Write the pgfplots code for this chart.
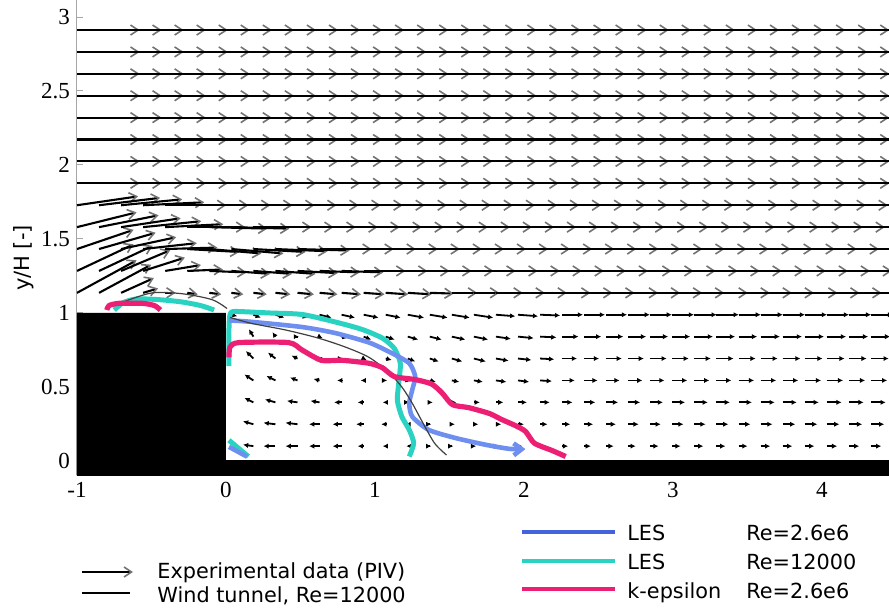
\documentclass[border=0pt]{standalone}
\usepackage{fontspec}
\setmainfont{DejaVu Sans}
\newfontfamily\tickfont{Liberation Serif}
\usepackage{pgfplots}
\usepackage{pgfplotstable}
\pgfplotsset{compat=1.18}
\usetikzlibrary{arrows.meta}

\definecolor{lesblue}{HTML}{6E8EF0}
\definecolor{lesbluekey}{HTML}{4562DD}
\definecolor{lescyan}{HTML}{2AD3C1}
\definecolor{kepsmag}{HTML}{EC1F74}

% PIV vectors of the lower rows: x y u v (in units of H)
\pgfplotstableread[row sep=\\]{
x y u v\\
0.184 0.100 -0.07 0.01\\ 0.332 0.100 -0.08 0\\ 0.480 0.100 -0.08 0\\ 0.628 0.100 -0.07 0\\
0.776 0.100 -0.06 0\\ 0.924 0.100 -0.04 0\\ 1.072 0.100 -0.02 0\\ 1.220 0.100 -0.01 0\\
1.368 0.100 0.01 0\\ 1.516 0.100 0.01 0\\ 1.664 0.100 0.015 0\\ 1.812 0.100 0.02 0\\
1.960 0.100 0.03 0\\ 2.108 0.100 0.035 0\\ 2.256 0.100 0.04 0\\ 2.404 0.100 0.045 0\\
2.552 0.100 0.05 0\\ 2.700 0.100 0.05 0\\ 2.848 0.100 0.055 0\\ 2.996 0.100 0.055 0\\
3.144 0.100 0.06 0\\ 3.292 0.100 0.06 0\\ 3.440 0.100 0.06 0\\ 3.588 0.100 0.065 0\\
3.736 0.100 0.065 0\\ 3.884 0.100 0.065 0\\ 4.032 0.100 0.07 0\\ 4.180 0.100 0.07 0\\
4.328 0.100 0.07 0\\
0.184 0.248 -0.07 0.02\\ 0.332 0.248 -0.08 0.01\\ 0.480 0.248 -0.08 0.01\\ 0.628 0.248 -0.07 0\\
0.776 0.248 -0.06 0\\ 0.924 0.248 -0.05 0\\ 1.072 0.248 -0.03 0\\ 1.220 0.248 -0.015 0\\
1.368 0.248 0.01 0\\ 1.516 0.248 0.02 0\\ 1.664 0.248 0.03 0\\ 1.812 0.248 0.035 0\\
1.960 0.248 0.04 0\\ 2.108 0.248 0.05 0\\ 2.256 0.248 0.055 0\\ 2.404 0.248 0.06 0\\
2.552 0.248 0.065 0\\ 2.700 0.248 0.07 0\\ 2.848 0.248 0.07 0\\ 2.996 0.248 0.075 0\\
3.144 0.248 0.075 0\\ 3.292 0.248 0.08 0\\ 3.440 0.248 0.08 0\\ 3.588 0.248 0.08 0\\
3.736 0.248 0.085 0\\ 3.884 0.248 0.085 0\\ 4.032 0.248 0.085 0\\ 4.180 0.248 0.09 0\\
4.328 0.248 0.09 0\\
0.184 0.396 -0.06 0.03\\ 0.332 0.396 -0.07 0.02\\ 0.480 0.396 -0.07 0.01\\ 0.628 0.396 -0.06 0.01\\
0.776 0.396 -0.05 0\\ 0.924 0.396 -0.04 0\\ 1.072 0.396 -0.02 0\\ 1.220 0.396 0.01 0\\
1.368 0.396 0.02 0\\ 1.516 0.396 0.03 0\\ 1.664 0.396 0.04 0\\ 1.812 0.396 0.05 0\\
1.960 0.396 0.06 0\\ 2.108 0.396 0.065 0\\ 2.256 0.396 0.07 0\\ 2.404 0.396 0.075 0\\
2.552 0.396 0.08 0\\ 2.700 0.396 0.08 0\\ 2.848 0.396 0.085 0\\ 2.996 0.396 0.085 0\\
3.144 0.396 0.09 0\\ 3.292 0.396 0.09 0\\ 3.440 0.396 0.09 0\\ 3.588 0.396 0.095 0\\
3.736 0.396 0.095 0\\ 3.884 0.396 0.095 0\\ 4.032 0.396 0.10 0\\ 4.180 0.396 0.10 0\\
4.328 0.396 0.10 0\\
0.184 0.544 -0.06 0.04\\ 0.332 0.544 -0.06 0.03\\ 0.480 0.544 -0.05 0.02\\ 0.628 0.544 -0.04 0.01\\
0.776 0.544 -0.03 0\\ 0.924 0.544 -0.02 0\\ 1.072 0.544 0.01 0\\ 1.220 0.544 0.02 -0.005\\
1.368 0.544 0.04 -0.01\\ 1.516 0.544 0.05 -0.01\\ 1.664 0.544 0.06 -0.01\\ 1.812 0.544 0.07 -0.01\\
1.960 0.544 0.075 -0.01\\ 2.108 0.544 0.08 -0.005\\ 2.256 0.544 0.085 0\\ 2.404 0.544 0.09 0\\
2.552 0.544 0.09 0\\ 2.700 0.544 0.095 0\\ 2.848 0.544 0.095 0\\ 2.996 0.544 0.10 0\\
3.144 0.544 0.10 0\\ 3.292 0.544 0.10 0\\ 3.440 0.544 0.105 0\\ 3.588 0.544 0.105 0\\
3.736 0.544 0.105 0\\ 3.884 0.544 0.11 0\\ 4.032 0.544 0.11 0\\ 4.180 0.544 0.11 0\\
4.328 0.544 0.11 0\\
0.184 0.692 -0.05 0.05\\ 0.332 0.692 -0.05 0.04\\ 0.480 0.692 -0.04 0.02\\ 0.628 0.692 -0.02 0.01\\
0.776 0.692 0.01 0\\ 0.924 0.692 0.02 -0.01\\ 1.072 0.692 0.04 -0.01\\ 1.220 0.692 0.05 -0.02\\
1.368 0.692 0.06 -0.02\\ 1.516 0.692 0.07 -0.02\\ 1.664 0.692 0.08 -0.02\\ 1.812 0.692 0.085 -0.015\\
1.960 0.692 0.09 -0.01\\ 2.108 0.692 0.095 -0.005\\ 2.256 0.692 0.10 0\\ 2.404 0.692 0.10 0\\
2.552 0.692 0.105 0\\ 2.700 0.692 0.105 0\\ 2.848 0.692 0.11 0\\ 2.996 0.692 0.11 0\\
3.144 0.692 0.11 0\\ 3.292 0.692 0.115 0\\ 3.440 0.692 0.115 0\\ 3.588 0.692 0.115 0\\
3.736 0.692 0.12 0\\ 3.884 0.692 0.12 0\\ 4.032 0.692 0.12 0\\ 4.180 0.692 0.12 0\\
4.328 0.692 0.12 0\\
0.184 0.840 -0.03 0.05\\ 0.332 0.840 -0.02 0.03\\ 0.480 0.840 0.01 0\\ 0.628 0.840 0.02 -0.01\\
0.776 0.840 0.04 -0.01\\ 0.924 0.840 0.05 -0.02\\ 1.072 0.840 0.06 -0.02\\ 1.220 0.840 0.07 -0.02\\
1.368 0.840 0.08 -0.02\\ 1.516 0.840 0.09 -0.02\\ 1.664 0.840 0.095 -0.02\\ 1.812 0.840 0.10 -0.015\\
1.960 0.840 0.105 -0.01\\ 2.108 0.840 0.11 -0.005\\ 2.256 0.840 0.11 0\\ 2.404 0.840 0.115 0\\
2.552 0.840 0.115 0\\ 2.700 0.840 0.12 0\\ 2.848 0.840 0.12 0\\ 2.996 0.840 0.12 0\\
3.144 0.840 0.125 0\\ 3.292 0.840 0.125 0\\ 3.440 0.840 0.125 0\\ 3.588 0.840 0.13 0\\
3.736 0.840 0.13 0\\ 3.884 0.840 0.13 0\\ 4.032 0.840 0.13 0\\ 4.180 0.840 0.13 0\\
4.328 0.840 0.13 0\\
0.036 0.988 0.04 -0.01\\ 0.184 0.988 0.05 -0.02\\ 0.332 0.988 0.06 -0.02\\ 0.480 0.988 0.07 -0.02\\
0.628 0.988 0.08 -0.02\\ 0.776 0.988 0.09 -0.02\\ 0.924 0.988 0.10 -0.02\\ 1.072 0.988 0.10 -0.02\\
1.220 0.988 0.11 -0.02\\ 1.368 0.988 0.12 -0.02\\ 1.516 0.988 0.12 -0.02\\ 1.664 0.988 0.13 -0.02\\
1.812 0.988 0.13 -0.01\\ 1.960 0.988 0.135 -0.01\\ 2.108 0.988 0.135 -0.005\\ 2.256 0.988 0.14 0\\
2.404 0.988 0.14 0\\ 2.552 0.988 0.14 0\\ 2.700 0.988 0.145 0\\ 2.848 0.988 0.145 0\\
2.996 0.988 0.145 0\\ 3.144 0.988 0.15 0\\ 3.292 0.988 0.15 0\\ 3.440 0.988 0.15 0\\
3.588 0.988 0.15 0\\ 3.736 0.988 0.15 0\\ 3.884 0.988 0.15 0\\ 4.032 0.988 0.15 0\\
4.180 0.988 0.15 0\\ 4.328 0.988 0.15 0\\
-1.000 1.136 0.40 0.22\\ -0.852 1.136 0.35 0.19\\ -0.704 1.136 0.22 0.10\\ -0.556 1.136 0.10 0.03\\
-0.408 1.136 0.07 0\\ -0.260 1.136 0.07 -0.01\\ -0.112 1.136 0.08 -0.01\\ 0.036 1.136 0.08 -0.01\\
0.184 1.136 0.09 -0.01\\ 0.332 1.136 0.10 -0.01\\ 0.480 1.136 0.11 -0.01\\ 0.628 1.136 0.12 -0.01\\
0.776 1.136 0.13 -0.01\\ 0.924 1.136 0.14 -0.01\\ 1.072 1.136 0.15 -0.01\\ 1.220 1.136 0.16 -0.01\\
1.368 1.136 0.16 -0.005\\ 1.516 1.136 0.17 0\\ 1.664 1.136 0.17 0\\ 1.812 1.136 0.18 0\\
1.960 1.136 0.18 0\\ 2.108 1.136 0.18 0\\ 2.256 1.136 0.19 0\\ 2.404 1.136 0.19 0\\
2.552 1.136 0.19 0\\ 2.700 1.136 0.20 0\\ 2.848 1.136 0.20 0\\ 2.996 1.136 0.20 0\\
3.144 1.136 0.20 0\\ 3.292 1.136 0.21 0\\ 3.440 1.136 0.21 0\\ 3.588 1.136 0.21 0\\
3.736 1.136 0.21 0\\ 3.884 1.136 0.22 0\\ 4.032 1.136 0.22 0\\ 4.180 1.136 0.22 0\\
4.328 1.136 0.22 0\\
-1.000 1.284 0.38 0.18\\ -0.852 1.284 0.36 0.17\\ -0.704 1.284 0.33 0.14\\ -0.556 1.284 0.28 0.09\\
-0.408 1.284 0.24 0.04\\ -0.260 1.284 0.24 0.01\\ -0.112 1.284 0.25 -0.01\\ 0.036 1.284 0.26 -0.02\\
0.184 1.284 0.26 -0.02\\ 0.332 1.284 0.27 -0.02\\ 0.480 1.284 0.27 -0.015\\ 0.628 1.284 0.27 -0.01\\
0.776 1.284 0.28 -0.01\\ 0.924 1.284 0.28 0\\ 1.072 1.284 0.28 0\\ 1.220 1.284 0.28 0\\
1.368 1.284 0.28 0\\ 1.516 1.284 0.28 0\\ 1.664 1.284 0.28 0\\ 1.812 1.284 0.28 0\\
1.960 1.284 0.28 0\\ 2.108 1.284 0.28 0\\ 2.256 1.284 0.28 0\\ 2.404 1.284 0.28 0\\
2.552 1.284 0.28 0\\ 2.700 1.284 0.29 0\\ 2.848 1.284 0.29 0\\ 2.996 1.284 0.29 0\\
3.144 1.284 0.29 0\\ 3.292 1.284 0.29 0\\ 3.440 1.284 0.29 0\\ 3.588 1.284 0.29 0\\
3.736 1.284 0.29 0\\ 3.884 1.284 0.29 0\\ 4.032 1.284 0.29 0\\ 4.180 1.284 0.29 0\\
4.328 1.284 0.29 0\\
-1.000 1.432 0.38 0.13\\ -0.852 1.432 0.38 0.11\\ -0.704 1.432 0.37 0.08\\ -0.556 1.432 0.36 0.04\\
-0.408 1.432 0.35 0.01\\ -0.260 1.432 0.35 -0.02\\ -0.112 1.432 0.35 -0.03\\ 0.036 1.432 0.35 -0.03\\
0.184 1.432 0.35 -0.02\\ 0.332 1.432 0.35 -0.015\\ 0.480 1.432 0.35 -0.01\\ 0.628 1.432 0.35 0\\
0.776 1.432 0.35 0\\ 0.924 1.432 0.35 0\\ 1.072 1.432 0.35 0\\ 1.220 1.432 0.35 0\\
1.368 1.432 0.35 0\\ 1.516 1.432 0.35 0\\ 1.664 1.432 0.35 0\\ 1.812 1.432 0.35 0\\
1.960 1.432 0.35 0\\ 2.108 1.432 0.35 0\\ 2.256 1.432 0.35 0\\ 2.404 1.432 0.35 0\\
2.552 1.432 0.35 0\\ 2.700 1.432 0.35 0\\ 2.848 1.432 0.35 0\\ 2.996 1.432 0.35 0\\
3.144 1.432 0.35 0\\ 3.292 1.432 0.35 0\\ 3.440 1.432 0.35 0\\ 3.588 1.432 0.35 0\\
3.736 1.432 0.35 0\\ 3.884 1.432 0.35 0\\ 4.032 1.432 0.35 0\\ 4.180 1.432 0.35 0\\
4.328 1.432 0.35 0\\
-1.000 1.580 0.40 0.10\\ -0.852 1.580 0.40 0.08\\ -0.704 1.580 0.40 0.06\\ -0.556 1.580 0.39 0.04\\
-0.408 1.580 0.39 0.02\\ -0.260 1.580 0.39 0\\ -0.112 1.580 0.39 -0.01\\ 0.036 1.580 0.39 -0.01\\
0.184 1.580 0.39 0\\ 0.332 1.580 0.39 0\\ 0.480 1.580 0.39 0\\ 0.628 1.580 0.39 0\\
0.776 1.580 0.39 0\\ 0.924 1.580 0.39 0\\ 1.072 1.580 0.39 0\\ 1.220 1.580 0.39 0\\
1.368 1.580 0.39 0\\ 1.516 1.580 0.39 0\\ 1.664 1.580 0.39 0\\ 1.812 1.580 0.39 0\\
1.960 1.580 0.39 0\\ 2.108 1.580 0.39 0\\ 2.256 1.580 0.39 0\\ 2.404 1.580 0.39 0\\
2.552 1.580 0.39 0\\ 2.700 1.580 0.39 0\\ 2.848 1.580 0.39 0\\ 2.996 1.580 0.39 0\\
3.144 1.580 0.39 0\\ 3.292 1.580 0.39 0\\ 3.440 1.580 0.39 0\\ 3.588 1.580 0.39 0\\
3.736 1.580 0.39 0\\ 3.884 1.580 0.39 0\\ 4.032 1.580 0.39 0\\ 4.180 1.580 0.39 0\\
4.328 1.580 0.39 0\\
-1.000 1.728 0.41 0.06\\ -0.852 1.728 0.41 0.05\\ -0.704 1.728 0.41 0.04\\ -0.556 1.728 0.41 0.02\\
-0.408 1.728 0.41 0\\ -0.260 1.728 0.41 0\\ -0.112 1.728 0.41 0\\ 0.036 1.728 0.41 0\\
0.184 1.728 0.41 0\\ 0.332 1.728 0.41 0\\ 0.480 1.728 0.41 0\\ 0.628 1.728 0.41 0\\
0.776 1.728 0.41 0\\ 0.924 1.728 0.41 0\\ 1.072 1.728 0.41 0\\ 1.220 1.728 0.41 0\\
1.368 1.728 0.41 0\\ 1.516 1.728 0.41 0\\ 1.664 1.728 0.41 0\\ 1.812 1.728 0.41 0\\
1.960 1.728 0.41 0\\ 2.108 1.728 0.41 0\\ 2.256 1.728 0.41 0\\ 2.404 1.728 0.41 0\\
2.552 1.728 0.41 0\\ 2.700 1.728 0.41 0\\ 2.848 1.728 0.41 0\\ 2.996 1.728 0.41 0\\
3.144 1.728 0.41 0\\ 3.292 1.728 0.41 0\\ 3.440 1.728 0.41 0\\ 3.588 1.728 0.41 0\\
3.736 1.728 0.41 0\\ 3.884 1.728 0.41 0\\ 4.032 1.728 0.41 0\\ 4.180 1.728 0.41 0\\
4.328 1.728 0.41 0\\
}\piv

% upper rows, where the flow is uniform: grid column x and streamwise u
\pgfplotstableread[row sep=\\]{
x u\\ -1.000 0.42\\ -0.852 0.42\\ -0.704 0.42\\ -0.556 0.42\\ -0.408 0.42\\ -0.260 0.42\\
-0.112 0.42\\ 0.036 0.42\\ 0.184 0.42\\ 0.332 0.42\\ 0.480 0.42\\ 0.628 0.42\\ 0.776 0.42\\
0.924 0.42\\ 1.072 0.42\\ 1.220 0.42\\ 1.368 0.42\\ 1.516 0.42\\ 1.664 0.42\\ 1.812 0.42\\
1.960 0.42\\ 2.108 0.42\\ 2.256 0.42\\ 2.404 0.42\\ 2.552 0.42\\ 2.700 0.42\\ 2.848 0.42\\
2.996 0.42\\ 3.144 0.42\\ 3.292 0.42\\ 3.440 0.42\\ 3.588 0.42\\ 3.736 0.42\\ 3.884 0.42\\
4.032 0.42\\ 4.180 0.42\\ 4.328 0.42\\
}\cols

\tikzset{
  pivarrow/.style={black, line width=1.05bp,
    -{Straight Barb[length=3.8bp,width=5bp,line width=0.8bp,color=black!55]}},
  pivshort/.style={black, line width=0.9bp,
    -{Latex[length=2.6bp,width=2.6bp]}},
}

\begin{document}
\begin{tikzpicture}[font=\fontsize{10.4bp}{12bp}\selectfont]
\begin{axis}[
  name=ax,
  scale only axis,
  width=406bp, height=237.5bp,
  xmin=-1, xmax=4.45, ymin=-0.095, ymax=3.115,
  axis lines=left,
  axis line style={-},
  x axis line style={draw=none},
  y axis line style={draw=black!35, line width=0.5bp},
  xtick={-1,0,1,2,3,4},
  ytick={0,0.5,1,1.5,2,2.5,3},
  xtick style={draw=none},
  ytick style={draw=black!35, line width=0.5bp},
  tick align=inside,
  major tick length=3bp,
  tick label style={font=\tickfont\fontsize{11.5bp}{13bp}\selectfont},
  /pgf/number format/assume math mode=true,
]

% PIV vectors: short ones in the wake, long ones above
\addplot[pivshort, quiver={u=\thisrow{u}, v=\thisrow{v}},
  restrict y to domain=0:1.05] table[x=x, y=y] {\piv};
\addplot[pivarrow, quiver={u=\thisrow{u}, v=\thisrow{v}},
  restrict y to domain=1.05:2] table[x=x, y=y] {\piv};
\addplot[pivarrow, quiver={u=\thisrow{u}, v=0}] table[x=x, y expr=1.876] {\cols};
\addplot[pivarrow, quiver={u=\thisrow{u}, v=0}] table[x=x, y expr=2.024] {\cols};
\addplot[pivarrow, quiver={u=\thisrow{u}, v=0}] table[x=x, y expr=2.172] {\cols};
\addplot[pivarrow, quiver={u=\thisrow{u}, v=0}] table[x=x, y expr=2.320] {\cols};
\addplot[pivarrow, quiver={u=\thisrow{u}, v=0}] table[x=x, y expr=2.468] {\cols};
\addplot[pivarrow, quiver={u=\thisrow{u}, v=0}] table[x=x, y expr=2.616] {\cols};
\addplot[pivarrow, quiver={u=\thisrow{u}, v=0}] table[x=x, y expr=2.764] {\cols};
\addplot[pivarrow, quiver={u=\thisrow{u}, v=0}] table[x=x, y expr=2.912] {\cols};

% cube and ground
\addplot[fill=black, draw=none] coordinates {
  (-1.1,-0.2) (4.6,-0.2) (4.6,0.005) (0,0.005) (0,1) (-1.1,1)} -- cycle;

% LES Re=12000
\addplot[lescyan, line width=2.5bp, line join=round, smooth, tension=0.4] coordinates {
  (0.02,0.64)(0.02,0.89)(0.027,0.99)(0.06,1.01)(0.29,1.0)(0.51,0.99)(0.73,0.94)
  (0.91,0.89)(1.05,0.83)(1.13,0.76)(1.17,0.66)(1.16,0.53)(1.15,0.41)(1.18,0.30)
  (1.23,0.21)(1.26,0.12)(1.23,0.03)};
\addplot[lescyan, line width=2.5bp, line join=round, smooth, tension=0.4] coordinates {
  (-0.75,1.02)(-0.69,1.07)(-0.60,1.095)(-0.45,1.09)(-0.30,1.075)(-0.17,1.05)(-0.08,1.02)};
\addplot[lescyan, line width=2.5bp] coordinates {(0.02,0.14)(0.15,0.03)};

% LES Re=2.6e6
\addplot[lesblue, line width=2.3bp, line join=round, smooth, tension=0.4,
  -{Straight Barb[length=4bp,width=6bp]}] coordinates {
  (0.02,0.95)(0.17,0.94)(0.51,0.905)(0.73,0.865)(0.96,0.80)(1.11,0.73)(1.23,0.66)
  (1.27,0.57)(1.25,0.48)(1.23,0.39)(1.25,0.30)(1.36,0.21)(1.54,0.155)(1.74,0.11)
  (1.90,0.082)(2.01,0.08)};
\addplot[lesblue, line width=2.3bp] coordinates {(0.02,0.095)(0.14,0.03)};

% wind tunnel, Re=12000
\addplot[black!75, line width=0.6bp, smooth, tension=0.5] coordinates {
  (0.027,0.97)(0.17,0.93)(0.40,0.885)(0.62,0.83)(0.80,0.77)(0.96,0.70)(1.09,0.60)
  (1.18,0.50)(1.25,0.39)(1.32,0.26)(1.40,0.12)(1.48,0.04)};
\addplot[black!75, line width=0.6bp, smooth, tension=0.5] coordinates {
  (-0.70,1.07)(-0.50,1.135)(-0.295,1.13)(-0.094,1.09)(0.007,1.03)};

% k-epsilon Re=2.6e6
\addplot[kepsmag, line width=2.6bp, line join=round, smooth, tension=0.4] coordinates {
  (0.02,0.70)(0.027,0.77)(0.087,0.80)(0.42,0.80)(0.51,0.75)(0.64,0.68)(0.78,0.68)
  (0.96,0.66)(1.05,0.63)(1.13,0.57)(1.27,0.55)(1.38,0.52)(1.45,0.46)(1.52,0.38)
  (1.63,0.36)(1.77,0.32)(1.85,0.28)(1.94,0.24)(2.01,0.20)(2.07,0.12)(2.19,0.07)
  (2.28,0.03)};
\addplot[kepsmag, line width=2.6bp, line join=round, smooth, tension=0.4] coordinates {
  (-0.80,1.02)(-0.785,1.05)(-0.72,1.065)(-0.56,1.065)(-0.48,1.05)(-0.44,1.02)};

\end{axis}

\node[rotate=90] at ([shift={(-26.5bp,108.5bp)}]ax.south west)
  {\fontsize{10.5bp}{12bp}\selectfont y/H [-]};

% keys
\begin{scope}[shift={(ax.south west)}]
  \draw[lesbluekey, line width=2.2bp] (222.5bp,-28.5bp) -- (269bp,-28.5bp);
  \draw[lescyan, line width=2.2bp] (222.5bp,-43bp) -- (269bp,-43bp);
  \draw[kepsmag, line width=2.2bp] (222.5bp,-57bp) -- (269bp,-57bp);
  \node[anchor=base west, inner sep=0] at (275bp,-32.5bp) {LES};
  \node[anchor=base west, inner sep=0] at (275bp,-47bp) {LES};
  \node[anchor=base west, inner sep=0] at (275bp,-61.5bp) {k-epsilon};
  \node[anchor=base west, inner sep=0] at (334.5bp,-32.5bp) {Re=2.6e6};
  \node[anchor=base west, inner sep=0] at (334.5bp,-47bp) {Re=12000};
  \node[anchor=base west, inner sep=0] at (334.5bp,-61.5bp) {Re=2.6e6};
  \draw[pivarrow] (2.5bp,-48.5bp) -- (28bp,-48.5bp);
  \draw[black, line width=1bp] (2.5bp,-59bp) -- (26.5bp,-59bp);
  \node[anchor=base west, inner sep=0] at (40bp,-51.5bp) {Experimental data (PIV)};
  \node[anchor=base west, inner sep=0] at (40bp,-63.5bp) {Wind tunnel, Re=12000};
\end{scope}

\pgfresetboundingbox
\path[use as bounding box] ([shift={(-38.5bp,-68bp)}]ax.south west) rectangle (ax.north east);
\end{tikzpicture}
\end{document}
